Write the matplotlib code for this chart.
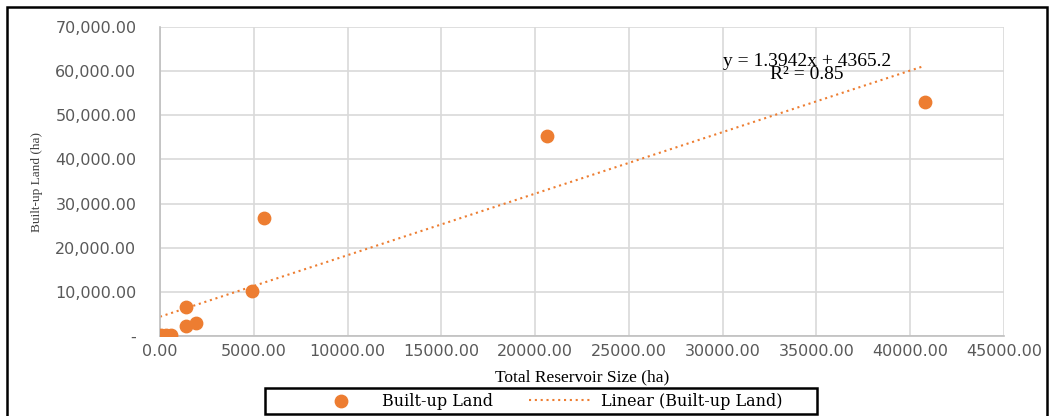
import matplotlib.pyplot as plt
from matplotlib.patches import Rectangle
from matplotlib.ticker import FuncFormatter
import numpy as np

# reservoir size (ha) vs built-up land (ha)
reservoir = [60, 300, 600, 1390, 1400, 1930, 4920, 5560, 20650, 40770]
builtup = [200, 200, 200, 6600, 2250, 2950, 10200, 26800, 45400, 52900]
slope, intercept = 1.3942, 4365.2
r2 = 0.85

orange = '#ED7D31'
serif = ['Liberation Serif', 'DejaVu Serif']

fig = plt.figure(figsize=(10.53, 4.16), dpi=100)
ax = fig.add_axes([160/1053, 1-336/416, (1004-160)/1053, (336-27)/416])

sc = ax.scatter(reservoir, builtup, s=80, color=orange, zorder=3, label='Built-up Land')
xt = np.array([0, max(reservoir)])
ln, = ax.plot(xt, slope*xt + intercept, linestyle=(0, (1, 1.8)), color=orange, lw=1.5,
              label='Linear (Built-up Land)', zorder=2)

ax.set_xlim(0, 45000)
ax.set_ylim(0, 70000)
ax.set_xticks(np.arange(0, 45001, 5000))
ax.set_yticks(np.arange(0, 70001, 10000))
ax.xaxis.set_major_formatter(FuncFormatter(lambda v, p: '%.2f' % v))
ax.yaxis.set_major_formatter(FuncFormatter(lambda v, p: '-' if v == 0 else '{:,.2f}'.format(v)))
ax.grid(True, color='#d9d9d9', lw=1.2)
ax.set_axisbelow(True)
for s in ['top', 'right']:
    ax.spines[s].set_visible(False)
for s in ['left', 'bottom']:
    ax.spines[s].set_color('#bfbfbf')
    ax.spines[s].set_linewidth(1.2)
ax.tick_params(length=0, labelsize=11.5, colors='#595959')
ax.tick_params(axis='y', pad=17)
ax.tick_params(axis='x', pad=6)

ax.set_xlabel('Total Reservoir Size (ha)', family=serif, fontsize=12.5, labelpad=7)
ax.set_ylabel('Built-up Land (ha)', family=serif, fontsize=9.5, color='#404040', labelpad=9)

ax.text(34500, 60800, 'y = %.4fx + %.1f\nR² = %.2f' % (slope, intercept, r2),
        ha='center', va='center', family=serif, fontsize=14, linespacing=0.7)

leg = fig.legend(handles=[sc, ln], loc='center', bbox_to_anchor=(546/1053, 1-401/416),
                 ncol=2, frameon=False, prop={'family': 'DejaVu Serif', 'size': 11.5},
                 handlelength=4, handletextpad=0.55, columnspacing=2.25)

fig.patches.append(Rectangle((265/1053, 1-414/416), (817-265)/1053, 26/416,
                             transform=fig.transFigure, fill=False, edgecolor='black', lw=1.8))
fig.patches.append(Rectangle((7/1053, -0.01), 1040/1053, 1-7/416+0.01, transform=fig.transFigure,
                             fill=False, edgecolor='black', lw=1.8))

fig.savefig('out.png', dpi=100)
